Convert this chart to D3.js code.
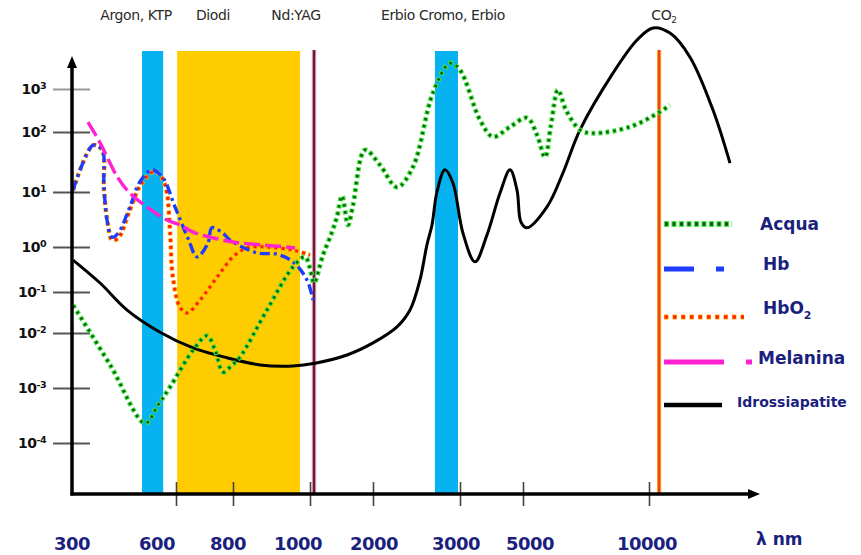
<!DOCTYPE html>
<html><head><meta charset="utf-8">
<script src="https://cdn.jsdelivr.net/npm/d3@7/dist/d3.min.js"></script>
<style>body{margin:0;background:#fff}svg{display:block}</style>
</head><body><svg id="c" width="861" height="555"></svg>
<script>
// ---------- DATA ----------
const xTickValues = [300, 600, 800, 1000, 2000, 3000, 5000, 10000];
const xTickLabels = ["300", "600", "800", "1000", "2000", "3000", "5000", "10000"];
const yTickExp = [3, 2, 1, 0, -1, -2, -3, -4];          // log10 of absorption
const yTickLabels = ["3", "2", "1", "0", "-1", "-2", "-3", "-4"];

const laserNames = ["Argon, KTP", "Diodi", "Nd:YAG", "Erbio Cromo, Erbio", "CO2"];
const laserFrom  = [502, 604, 1064, 2712, 10800];        // nm
const laserTo    = [563, 974, 1064, 2977, 10800];        // nm

const seriesNames = ["Acqua", "Hb", "HbO2", "Melanina", "Idrossiapatite"];

const acquaNm  = [303, 410, 511, 548, 583, 660, 709, 737, 765, 797, 818, 888, 956, 987, 1000, 1063, 1206, 1349, 1428, 1508, 1603, 1682, 1873, 2080, 2276, 2460, 2689, 2885, 3000, 3635, 4048, 4588, 5159, 5556, 5873, 6111, 6389, 6706, 7262, 7778, 9246, 10873, 11667];
const acquaLog = [-1.32, -2.58, -3.64, -3.31, -2.98, -2.31, -2.05, -2.31, -2.71, -2.58, -2.44, -1.44, -0.44, -0.22, -0.47, -0.80, -0.18, 0.27, 0.55, 0.93, 0.40, 0.76, 1.70, 1.45, 1.08, 1.42, 2.91, 3.60, 3.44, 2.28, 1.92, 2.12, 2.33, 1.95, 1.58, 2.16, 2.98, 2.51, 2.05, 1.98, 2.12, 2.47, 2.63];

const hbNm  = [303, 361, 387, 392, 401, 415, 433, 467, 496, 531, 563, 597, 642, 674, 712, 726, 765, 789, 862, 914, 956, 992, 1048];
const hbLog = [1.03, 1.78, 1.70, 1.12, 0.49, 0.18, 0.25, 0.73, 1.17, 1.37, 1.23, 0.73, 0.16, -0.22, 0.07, 0.35, 0.25, 0.13, -0.13, -0.16, -0.33, -0.73, -1.20];

const hbo2Nm  = [303, 361, 387, 392, 404, 415, 433, 467, 496, 531, 545, 563, 574, 583, 591, 614, 639, 684, 744, 800, 836, 888, 956, 1000];
const hbo2Log = [1.03, 1.78, 1.70, 1.03, 0.40, 0.13, 0.16, 0.67, 1.10, 1.33, 1.33, 1.20, 0.98, 0.25, -0.67, -1.37, -1.51, -1.20, -0.67, -0.22, -0.02, 0.00, -0.07, -0.18];

const melNm  = [346, 381, 433, 467, 516, 574, 614, 660, 719, 800, 870, 940, 961];
const melLog = [2.23, 1.82, 1.23, 0.98, 0.73, 0.49, 0.40, 0.27, 0.18, 0.09, 0.04, 0.00, -0.02];

const idrNm  = [303, 381, 459, 554, 660, 779, 870, 956, 1079, 1587, 2000, 2276, 2425, 2540, 2620, 2678, 2735, 2827, 2919, 3095, 3476, 3857, 4270, 4588, 4810, 4937, 5159, 5952, 6587, 7262, 8571, 9524, 10317, 11667, 13254, 15080, 16429];
const idrLog = [-0.29, -0.80, -1.44, -1.98, -2.27, -2.45, -2.58, -2.60, -2.55, -2.40, -2.18, -1.85, -1.44, -0.73, 0.04, 0.40, 1.00, 1.37, 1.15, 0.25, -0.33, 0.22, 0.98, 1.37, 1.03, 0.45, 0.35, 0.73, 1.32, 2.05, 3.37, 4.14, 4.42, 4.30, 3.74, 2.51, 1.48];

// ---------- LAYOUT ----------
const svg = d3.select("#c");
const x = d3.scaleLinear()
  .domain([300, 600, 800, 1000, 2000, 3000, 5000, 10000, 20000])
  .range([72, 176, 233, 310, 373, 460, 523, 649, 775]);
const xLab = d3.scaleLinear().domain(xTickValues).range([72, 157, 228, 298, 374, 456, 530, 647]);
const y = d3.scaleLinear()
  .domain([-4, -3, -2, -1, 0, 1, 2, 3])
  .range([443, 388, 333, 292, 247, 192, 132, 89]);
const axisY = 494, axisX = 72, bandTop = 51;
const navy = "#1b1f7e";

// laser bands
const bandStyle = [
  {type: "rect", fill: "#06b2ef"},
  {type: "rect", fill: "#ffcc00"},
  {type: "line", core: "#6a1d36", halo: "#e9a6c4", w: 2.4},
  {type: "rect", fill: "#06b2ef"},
  {type: "line", core: "#e8461c", halo: "#ffa31a", w: 2.2}
];
const labelX = [136, 213, 296, 443, 664];
laserNames.forEach((name, i) => {
  const st = bandStyle[i];
  if (st.type === "rect") {
    svg.append("rect").attr("x", x(laserFrom[i])).attr("y", bandTop)
      .attr("width", x(laserTo[i]) - x(laserFrom[i])).attr("height", axisY - bandTop)
      .attr("fill", st.fill);
  } else {
    svg.append("line").attr("x1", x(laserFrom[i])).attr("x2", x(laserFrom[i]))
      .attr("y1", bandTop - 1).attr("y2", axisY).attr("stroke", st.halo).attr("stroke-width", st.w + 2);
    svg.append("line").attr("x1", x(laserFrom[i])).attr("x2", x(laserFrom[i]))
      .attr("y1", bandTop - 1).attr("y2", axisY).attr("stroke", st.core).attr("stroke-width", st.w);
  }
  const t = svg.append("text").attr("x", labelX[i]).attr("y", 20)
    .attr("text-anchor", "middle").attr("font-family", "DejaVu Sans")
    .attr("font-size", 14).attr("fill", "#2a2a2a").attr("letter-spacing", "-0.4");
  if (name === "CO2") {
    t.text("CO");
    t.append("tspan").attr("font-size", 9).attr("dy", 3).text("2");
  } else t.text(name);
});

// axes
const yAxis = d3.axisLeft(y).tickValues(yTickExp).tickSize(37).tickFormat("");
const gy = svg.append("g").attr("transform", "translate(90,0)").call(yAxis);
gy.select(".domain").remove();
gy.selectAll(".tick line").attr("stroke", (d) => d === 3 ? "#9a9a9a" : "#555").attr("stroke-width", 2);

const xAxis = d3.axisBottom(x).tickValues(xTickValues.slice(1)).tickSize(24).tickFormat("");
const gx = svg.append("g").attr("transform", "translate(0,482)").call(xAxis);
gx.select(".domain").remove();
gx.selectAll(".tick line").attr("stroke", "#444").attr("stroke-width", 1.6);

// y tick labels
yTickExp.forEach((e, i) => {
  const t = svg.append("text").attr("x", 46).attr("y", y(e) + 5)
    .attr("text-anchor", "end").attr("font-family", "DejaVu Sans")
    .attr("font-weight", "bold").attr("font-size", 14).attr("fill", "#111")
    .attr("letter-spacing", "-0.5").text("10");
  t.append("tspan").attr("font-size", 9.5).attr("dy", -5).text(yTickLabels[i]);
});

// x tick labels
xTickValues.forEach((v, i) => {
  svg.append("text").attr("x", xLab(v)).attr("y", 550).attr("text-anchor", "middle")
    .attr("font-family", "DejaVu Sans").attr("font-weight", "bold").attr("font-size", 18)
    .attr("fill", navy).attr("letter-spacing", "-0.5").text(xTickLabels[i]);
});
svg.append("text").attr("x", 756).attr("y", 545).attr("font-family", "DejaVu Sans")
  .attr("font-weight", "bold").attr("font-size", 17).attr("fill", navy).text("λ nm");

// curves
const line = d3.line().x(d => x(d[0])).y(d => y(d[1])).curve(d3.curveCatmullRom.alpha(0.5));
const zip = (a, b) => a.map((v, i) => [v, b[i]]);
const styles = {
  Acqua: [{c: "#3fe23f", w: 5, da: "4 3"}, {c: "#0d5a0d", w: 2.6, da: "2.4 4.6", off: -0.8}],
  Hb: [{c: "#1d3cff", w: 3.4, da: "10 4 3 4"}],
  HbO2: [{c: "#ffb000", w: 4.6, da: "4 3"}, {c: "#ff2200", w: 3, da: "3 4", off: -0.5}],
  Melanina: [{c: "#ff20d2", w: 3.4, da: "16 5"}],
  Idrossiapatite: [{c: "#000", w: 3, da: null}]
};
const seriesData = {
  Acqua: zip(acquaNm, acquaLog), Hb: zip(hbNm, hbLog), HbO2: zip(hbo2Nm, hbo2Log),
  Melanina: zip(melNm, melLog), Idrossiapatite: zip(idrNm, idrLog)
};
["Idrossiapatite", "HbO2", "Hb", "Melanina", "Acqua"].forEach(n => {
  styles[n].forEach(s => {
    svg.append("path").attr("d", line(seriesData[n])).attr("fill", "none")
      .attr("stroke", s.c).attr("stroke-width", s.w)
      .attr("stroke-dasharray", s.da).attr("stroke-dashoffset", s.off || 0)
      .attr("stroke-linejoin", "round");
  });
});

// axis lines on top
svg.append("line").attr("x1", axisX).attr("x2", axisX).attr("y1", axisY + 1.5).attr("y2", 64)
  .attr("stroke", "#000").attr("stroke-width", 3.5);
svg.append("path").attr("d", `M${axisX - 5},68L${axisX},56L${axisX + 5},68Z`).attr("fill", "#000");
svg.append("line").attr("x1", axisX - 1.5).attr("x2", 752).attr("y1", axisY).attr("y2", axisY)
  .attr("stroke", "#000").attr("stroke-width", 3.5);
svg.append("path").attr("d", `M748,${axisY - 5}L760,${axisY}L748,${axisY + 5}Z`).attr("fill", "#000");

// legend
const legY = [224, 269, 317, 362, 405];
const legTextX = [760, 763, 763, 758, 737];
const legTextDy = [6, 1, -3, 2, 2];
const legSize = [17, 17, 17, 17, 14];
const legLine = {
  Acqua: {len: 68, da: "4 3"},
  Hb: {len: 62, da: "30 22 8 100"},
  HbO2: {len: 80, da: "4 3"},
  Melanina: {len: 88, da: "60 22 6 100"},
  Idrossiapatite: {len: 58, da: null}
};
seriesNames.forEach((n, i) => {
  const ly = legY[i];
  const L = legLine[n];
  const layers = n === "Acqua" ? [{c: "#3fe23f", w: 6, da: "5 2.5"}, {c: "#0d5a0d", w: 3.5, da: "3 4.5", off: -1}]
    : n === "HbO2" ? [{c: "#ffb000", w: 5, da: "4.5 4"}, {c: "#ff2200", w: 3.4, da: "3.4 5.1", off: -0.5}]
    : n === "Hb" ? [{c: "#1d3cff", w: 5, da: L.da}]
    : n === "Melanina" ? [{c: "#ff20d2", w: 5, da: L.da}]
    : [{c: "#000", w: 4.5, da: null}];
  layers.forEach(s => {
    svg.append("line").attr("x1", 664).attr("x2", 664 + L.len).attr("y1", ly).attr("y2", ly)
      .attr("stroke", s.c).attr("stroke-width", s.w).attr("stroke-dasharray", s.da)
      .attr("stroke-dashoffset", s.off || 0);
  });
  const t = svg.append("text").attr("x", legTextX[i]).attr("y", ly + legTextDy[i])
    .attr("font-family", "DejaVu Sans").attr("font-weight", "bold")
    .attr("font-size", legSize[i]).attr("fill", navy);
  if (n === "HbO2") {
    t.text("HbO");
    t.append("tspan").attr("font-size", 11).attr("dy", 5).text("2");
  } else t.text(n);
});
</script></body></html>
